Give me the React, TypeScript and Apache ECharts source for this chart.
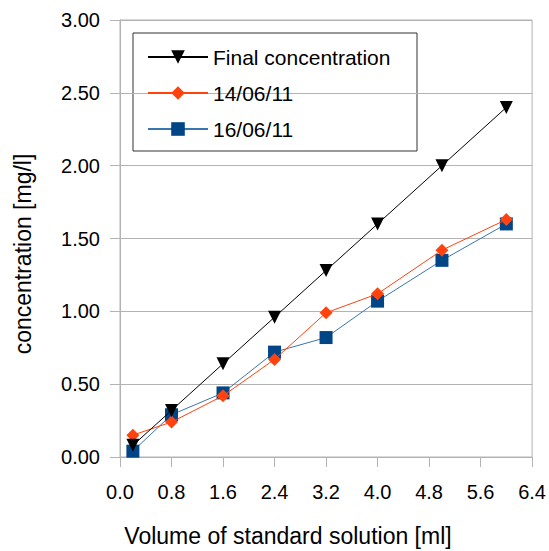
import React, { useEffect, useRef } from "react";
import * as echarts from "echarts";

const volumes = [0.2, 0.8, 1.6, 2.4, 3.2, 4.0, 5.0, 6.0];
const finalConcentration = [0.08, 0.32, 0.64, 0.96, 1.28, 1.6, 2.0, 2.4];
const series140611 = [0.15, 0.24, 0.42, 0.67, 0.99, 1.12, 1.42, 1.63];
const series160611 = [0.04, 0.29, 0.44, 0.72, 0.82, 1.07, 1.35, 1.6];
const seriesNames = ["Final concentration", "14/06/11", "16/06/11"];
const xTitle = "Volume of standard solution [ml]";
const yTitle = "concentration [mg/l]";

const FONT = "Liberation Sans, Arial, sans-serif";
const GRID = "#b3b3b3";

export default function App() {
  const ref = useRef<HTMLDivElement>(null);
  useEffect(() => {
    if (!ref.current) return;
    const chart = echarts.init(ref.current, undefined, { renderer: "svg" });
    const pair = (ys: number[]) => volumes.map((x, i) => [x, ys[i]]);
    chart.setOption({
      animation: false,
      backgroundColor: "#ffffff",
      textStyle: { fontFamily: FONT },
      grid: {
        left: 120,
        right: 16,
        top: 20,
        bottom: 94,
        show: true,
        borderColor: GRID,
        borderWidth: 1,
        backgroundColor: "transparent",
      },
      xAxis: {
        type: "value",
        min: 0,
        max: 6.4,
        interval: 0.8,
        axisLine: { show: true, lineStyle: { color: GRID, width: 1 } },
        axisTick: { show: true, inside: false, length: 10, lineStyle: { color: GRID } },
        splitLine: { show: false },
        axisLabel: {
          color: "#000",
          fontSize: 20,
          fontFamily: FONT,
          margin: 25,
          formatter: (v: number) => v.toFixed(1),
        },
      },
      yAxis: {
        type: "value",
        min: 0,
        max: 3,
        interval: 0.5,
        axisLine: { show: true, lineStyle: { color: GRID, width: 1 } },
        axisTick: { show: true, inside: false, length: 10, lineStyle: { color: GRID } },
        splitLine: { show: true, lineStyle: { color: GRID, width: 1 } },
        axisLabel: {
          color: "#000",
          fontSize: 20,
          fontFamily: FONT,
          margin: 20,
          formatter: (v: number) => v.toFixed(2),
        },
      },
      legend: {
        orient: "vertical",
        left: 147,
        top: 46,
        itemWidth: 60,
        itemHeight: 17,
        itemGap: 14,
        padding: 0,
        data: seriesNames,
        textStyle: { color: "#000", fontSize: 21, fontFamily: FONT, lineHeight: 22 },
      },
      graphic: [
        {
          type: "rect",
          shape: { x: 133, y: 33, width: 284, height: 118 },
          style: { fill: "#fff", stroke: "#333", lineWidth: 1 },
          z: 0,
          zlevel: 0,
        },
        {
          type: "text",
          x: 288,
          y: 536,
          style: {
            text: xTitle,
            fontSize: 23,
            fontFamily: FONT,
            fill: "#000",
            align: "center",
            verticalAlign: "middle",
          },
        },
        {
          type: "text",
          x: 23,
          y: 254,
          rotation: Math.PI / 2,
          style: {
            text: yTitle,
            fontSize: 23,
            fontFamily: FONT,
            fill: "#000",
            align: "center",
            verticalAlign: "middle",
          },
        },
      ],
      series: [
        {
          name: seriesNames[0],
          type: "line",
          data: pair(finalConcentration),
          symbol: "triangle",
          symbolRotate: 180,
          symbolSize: 13,
          itemStyle: { color: "#000000" },
          lineStyle: { color: "#000000", width: 1 },
          z: 5,
        },
        {
          name: seriesNames[1],
          type: "line",
          data: pair(series140611),
          symbol: "diamond",
          symbolSize: 13,
          itemStyle: { color: "#ff420e" },
          lineStyle: { color: "#ff420e", width: 1 },
          z: 4,
        },
        {
          name: seriesNames[2],
          type: "line",
          data: pair(series160611),
          symbol: "rect",
          symbolSize: 13,
          itemStyle: { color: "#004586" },
          lineStyle: { color: "#3a75b0", width: 1 },
          z: 3,
        },
      ],
    });
    return () => chart.dispose();
  }, []);
  return (
    <div
      ref={ref}
      style={{ position: "fixed", left: 0, top: 0, width: 549, height: 551 }}
    />
  );
}
